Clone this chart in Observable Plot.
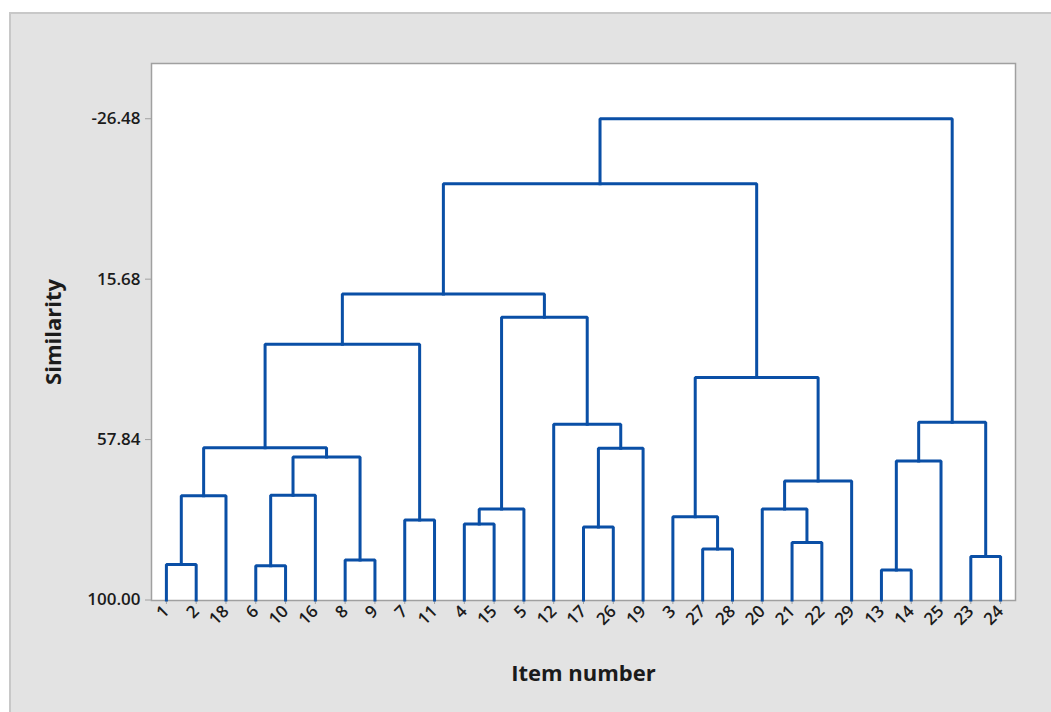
<!DOCTYPE html>
<html><head><meta charset="utf-8">
<script src="https://cdn.jsdelivr.net/npm/d3@7"></script>
<script src="https://cdn.jsdelivr.net/npm/@observablehq/plot@0.6"></script>
<style>
body{margin:0;background:#fff;width:1051px;height:712px;overflow:hidden;position:relative;font-family:"Open Sans",sans-serif}
#panel{position:absolute;left:9px;top:12px;width:1042px;height:700px;background:#e3e3e3;border-left:2px solid #c8c8c8;border-top:2px solid #c8c8c8;box-sizing:border-box}
#chart{position:absolute;left:0;top:0}
</style></head><body>
<div id="panel"></div><div id="chart"></div>
<script>
// Leaf order along the x axis (tick labels)
const leafOrder = ["1","2","18","6","10","16","8","9","7","11","4","15","5","12","17","26","19","3","27","28","20","21","22","29","13","14","25","23","24"];
// Merge steps: cluster cK is formed by mergeLeft[K-1] + mergeRight[K-1] at mergeSimilarity[K-1]
const mergeLeft  = ["1","c1","6","c3","8","c4","c2","7","c7","4","c10","17","c12","12","c11","c9","27","3","21","20","c20","c18","c16","13","c24","23","c25","c23"];
const mergeRight = ["2","18","10","16","9","c5","c6","11","c8","15","5","26","19","c13","c14","c15","28","c17","22","c19","29","c21","c22","14","25","24","c26","c27"];
const mergeSimilarity = [90.7,72.6,91.0,72.5,89.5,62.4,60.0,79.0,32.8,80.0,76.1,80.8,60.1,53.8,25.7,19.6,86.6,78.1,84.9,76.1,68.7,41.5,-9.4,92.1,63.5,88.6,53.3,-26.48];
const leafSimilarity = 100;
const yTicks = [-26.48, 15.68, 57.84, 100.00];

const pos = new Map(), hgt = new Map();
leafOrder.forEach((l, i) => { pos.set(l, i); hgt.set(l, leafSimilarity); });
const rows = [];
mergeLeft.forEach((a, k) => {
  const b = mergeRight[k], s = mergeSimilarity[k], id = "c" + (k + 1);
  const xa = pos.get(a), xb = pos.get(b);
  rows.push({id, x: xa, y: hgt.get(a)}, {id, x: xa, y: s}, {id, x: xb, y: s}, {id, x: xb, y: hgt.get(b)});
  pos.set(id, (xa + xb) / 2); hgt.set(id, s);
});

const chart = Plot.plot({
  width: 1051, height: 712,
  marginLeft: 151, marginRight: 36, marginTop: 63, marginBottom: 112,
  style: {background: "transparent", fontFamily: "'Open Sans', sans-serif", fontSize: "16px", color: "#1b1b1b"},
  x: {domain: [-0.5, leafOrder.length - 0.5]},
  y: {domain: [100, -41], range: [599.5, 63]},
  marks: [
    Plot.frame({fill: "white", stroke: "#a0a0a0", strokeWidth: 1.5}),
    Plot.axisY({ticks: yTicks, tickFormat: d => d.toFixed(2), tickSize: 6, tickPadding: 5, stroke: "#a0a0a0", fill: "#1b1b1b", fontSize: 17, fontWeight: 600, label: null}),
    Plot.axisX({ticks: leafOrder.map((_, i) => i), tickFormat: i => leafOrder[i], tickSize: 4, tickPadding: 4, tickRotate: -45, stroke: "#a0a0a0", fill: "#1b1b1b", fontSize: 17, fontWeight: 600, label: null}),
    Plot.line(rows, {x: "x", y: "y", z: "id", stroke: "#0a4fa6", strokeWidth: 3, strokeLinejoin: "miter", strokeLinecap: "square"}),
    Plot.text(["Similarity"], {frameAnchor: "left", dx: -98, rotate: -90, textAnchor: "middle", lineAnchor: "middle", fontSize: 22, fontWeight: "bold", fill: "#1b1b1b"}),
    Plot.text(["Item number"], {frameAnchor: "bottom", dy: 73, textAnchor: "middle", lineAnchor: "middle", fontSize: 22, fontWeight: "bold", fill: "#1b1b1b"})
  ]
});
document.getElementById("chart").append(chart);
</script>
</body></html>
